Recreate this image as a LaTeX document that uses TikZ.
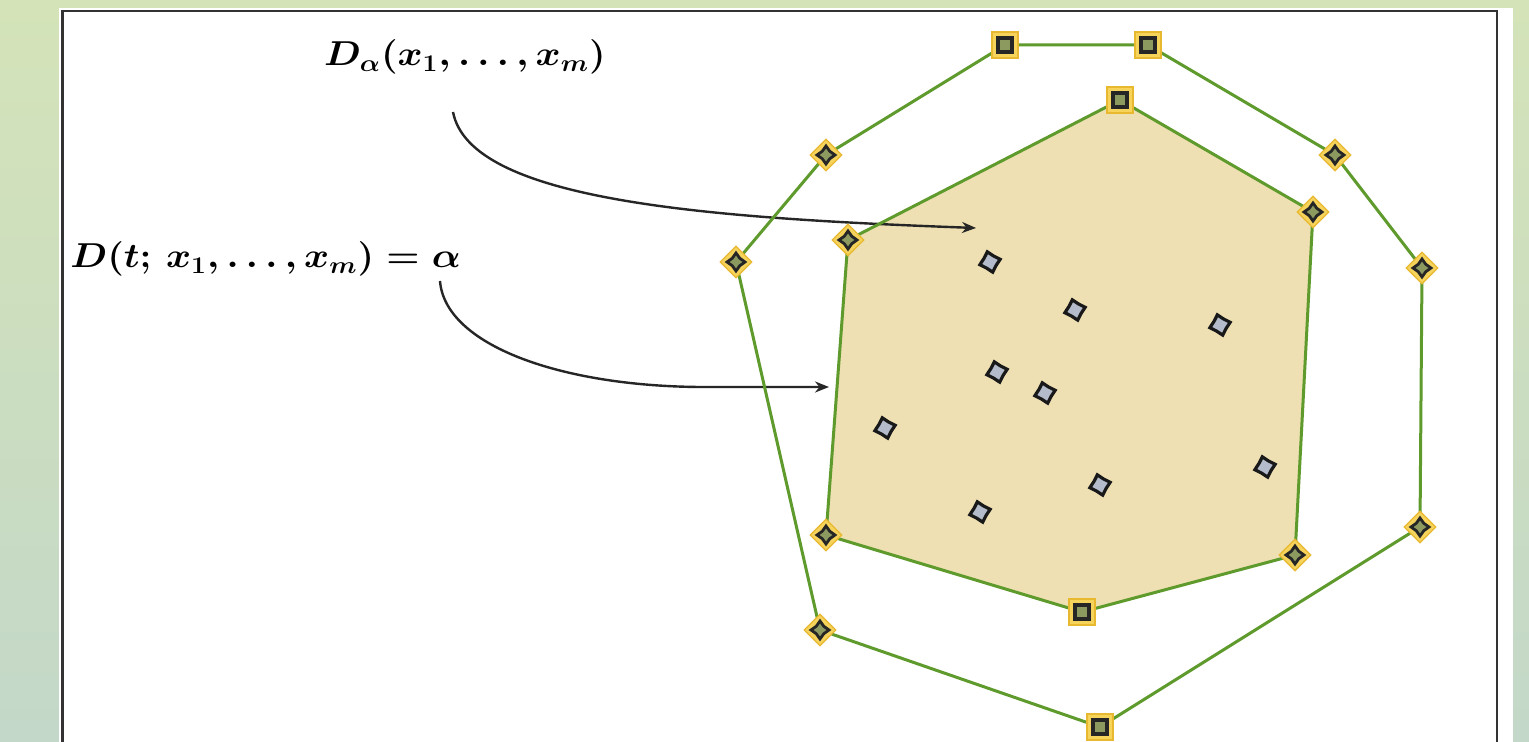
\documentclass[tikz,border=0pt]{standalone}
\usetikzlibrary{shapes.geometric,arrows.meta}
\definecolor{bgtop}{HTML}{D4E3B8}
\definecolor{bgbot}{HTML}{C3D8C8}
\definecolor{edge}{HTML}{5E9A2C}
\definecolor{tan}{HTML}{EEE0B2}
\definecolor{glow}{HTML}{F6D35A}
\definecolor{glowb}{HTML}{E8B830}
\definecolor{ptfill}{HTML}{B4BCCB}
\definecolor{mkfill}{HTML}{8C9A60}
\tikzset{
  sqm/.style={rectangle, minimum size=13pt, inner sep=0pt, fill=glow, draw=glowb, line width=0.6pt,
    path picture={\draw[black!85, line width=1.8pt, fill=mkfill] ([xshift=-3.4pt,yshift=-3.4pt]path picture bounding box.center) rectangle ([xshift=3.4pt,yshift=3.4pt]path picture bounding box.center);}},
  dim/.style={diamond, minimum size=16pt, inner sep=0pt, fill=glow, draw=glowb, line width=0.6pt,
    path picture={\node[star, star points=4, star point ratio=1.7, minimum size=9pt, inner sep=0pt, draw=black!85, line width=1.4pt, fill=mkfill] at (path picture bounding box.center) {};}},
  ipt/.style={star, star points=4, star point ratio=1.5, minimum size=10.5pt, inner sep=0pt, draw=black!90, line width=1.6pt, fill=ptfill, shape border rotate=15},
  poly/.style={edge, line width=1.5pt, line join=round},
  arr/.style={black!85, line width=1.2pt, -{Stealth[length=7pt,width=5.5pt]}},
  lab/.style={inner sep=0pt, font=\fontsize{18}{21}\selectfont\boldmath}
}
\begin{document}
\begin{tikzpicture}[x=0.5pt,y=-0.5pt]
\useasboundingbox (0,0) rectangle (1529,742);
\fill[top color=bgtop, bottom color=bgbot] (0,0) rectangle (1529,742);
\fill[white] (59,8) rectangle (1513,742);
\draw[black!80, line width=1.3pt] (62.5,745) -- (62.5,11) -- (1497,11) -- (1497,745);
% outer vertices
\coordinate (o1) at (1005,45);
\coordinate (o2) at (1148,45);
\coordinate (o3) at (1335,155);
\coordinate (o4) at (1422,268);
\coordinate (o5) at (1420,527);
\coordinate (o6) at (1100,727);
\coordinate (o7) at (820,630);
\coordinate (o8) at (736,262);
\coordinate (o9) at (826,155);
% inner vertices
\coordinate (i1) at (1120,100);
\coordinate (i2) at (1313,212);
\coordinate (i3) at (1295,555);
\coordinate (i4) at (1082,612);
\coordinate (i5) at (826,535);
\coordinate (i6) at (848,240);
\fill[tan] (i1) -- (i2) -- (i3) -- (i4) -- (i5) -- (i6) -- cycle;
% labels
\node[lab, anchor=base] (la) at (465,66) {\scalebox{1.1}[1]{$D_\alpha(x_1,\ldots,x_m)$}};
\node[lab, anchor=base west] (lb) at (70,268) {\scalebox{1.1}[1]{$D(t;\,x_1,\ldots,x_m)=\alpha$}};
\coordinate (a1s) at (453,112);
\coordinate (a1e) at (976,228);
\coordinate (a2s) at (440,281);
\coordinate (a2e) at (829,387);
\draw[arr] (a1s) .. controls (470,200) and (700,218) .. (a1e);
\draw[arr] (a2s) .. controls (445,345) and (560,386) .. (700,387) -- (a2e);
\draw[poly] (o1) -- (o2) -- (o3) -- (o4) -- (o5) -- (o6) -- (o7) -- (o8) -- (o9) -- cycle;
\draw[poly] (i1) -- (i2) -- (i3) -- (i4) -- (i5) -- (i6) -- cycle;
% markers
\node[sqm] (mo1) at (o1) {};
\node[sqm] (mo2) at (o2) {};
\node[dim] (mo3) at (o3) {};
\node[dim] (mo4) at (o4) {};
\node[dim] (mo5) at (o5) {};
\node[sqm] (mo6) at (o6) {};
\node[dim] (mo7) at (o7) {};
\node[dim] (mo8) at (o8) {};
\node[dim] (mo9) at (o9) {};
\node[sqm] (mi1) at (i1) {};
\node[dim] (mi2) at (i2) {};
\node[dim] (mi3) at (i3) {};
\node[sqm] (mi4) at (i4) {};
\node[dim] (mi5) at (i5) {};
\node[dim] (mi6) at (i6) {};
% interior points
\node[ipt] (p1) at (990,262) {};
\node[ipt] (p2) at (1075,310) {};
\node[ipt] (p3) at (1220,325) {};
\node[ipt] (p4) at (997,372) {};
\node[ipt] (p5) at (1045,393) {};
\node[ipt] (p6) at (885,428) {};
\node[ipt] (p7) at (1100,485) {};
\node[ipt] (p8) at (1265,467) {};
\node[ipt] (p9) at (980,512) {};
\end{tikzpicture}
\end{document}
